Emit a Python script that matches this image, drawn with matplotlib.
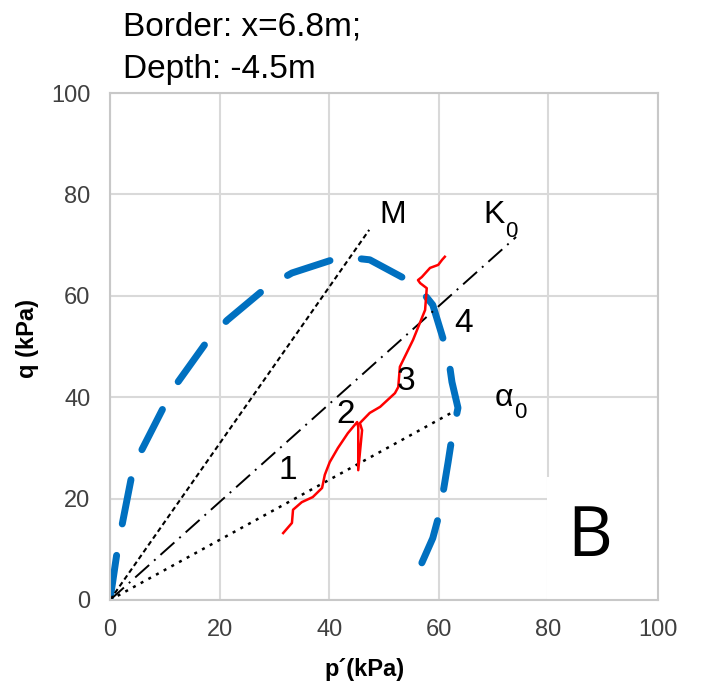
import matplotlib
matplotlib.use("Agg")
import matplotlib.pyplot as plt
from matplotlib.patches import Rectangle

plt.rcParams['font.family'] = ['Liberation Sans', 'DejaVu Sans']

# yield surface (blue dashed)
surf_p = [0.0, 1.3, 2.2, 4.0, 5.8, 10.0, 12.4, 17.9, 21.4, 28.6, 33.2, 42.3,
          47.4, 56.0, 58.9, 61.7, 62.4, 63.5, 62.4, 61.7, 60.2, 58.9, 55.3]
surf_q = [0.0, 9.5, 14.8, 24.7, 29.6, 38.5, 43.0, 51.3, 55.2, 61.7, 64.5, 67.7,
          67.1, 62.1, 58.2, 48.3, 43.0, 37.9, 32.1, 27.2, 17.4, 12.2, 3.4]

# measured stress path (red)
path_p = [31.6, 33.2, 33.4, 35.0, 37.0, 38.7, 39.2, 40.1, 41.6, 43.4, 45.1,
          45.3, 45.3, 46.0, 45.6, 47.4, 49.3, 52.0, 52.6, 52.9, 55.3, 57.5,
          57.8, 56.6, 56.2, 56.9, 58.4, 59.9, 60.6, 61.1]
path_q = [13.2, 15.2, 17.8, 19.3, 20.3, 22.1, 24.7, 27.2, 30.0, 32.9, 35.1,
          34.1, 25.6, 33.5, 34.9, 36.9, 38.1, 40.8, 42.0, 46.0, 51.3, 57.2,
          61.5, 62.5, 63.1, 63.7, 65.5, 66.1, 67.1, 67.7]

# reference lines from the origin: end points
m_line = ([0, 47.3], [0, 73.0])
k0_line = ([0, 74.1], [0, 71.6])
a0_line = ([0, 62.6], [0, 37.1])

ticks = [0, 20, 40, 60, 80, 100]
path_labels = ['1', '2', '3', '4']
path_label_p = [32.5, 43.0, 54.0, 64.5]
path_label_q = [25.5, 36.5, 43.0, 54.5]

fig = plt.figure(figsize=(7.08, 6.83), dpi=100)
ax = fig.add_axes([110 / 708, 1 - 600 / 683, 548 / 708, 507 / 683])
ax.set_xlim(0, 100)
ax.set_ylim(0, 100)
ax.set_xticks(ticks)
ax.set_yticks(ticks)
ax.tick_params(length=0, labelsize=17, labelcolor='#404040', pad=14)
ax.grid(True, color='#d9d9d9', lw=1.5, zorder=0)
ax.set_axisbelow(True)
for s in ax.spines.values():
    s.set_color('#c8c8c8')
    s.set_linewidth(1.5)
    s.set_zorder(5)

# white box behind the panel letter
ax.add_patch(Rectangle((79.7, 0), 20.3, 24.3, facecolor='white',
                       edgecolor='none', zorder=1))

ax.plot(*m_line, color='black', lw=1.5, ls=(0, (2.4, 1.6)), zorder=3)
ax.plot(*k0_line, color='black', lw=1.4, ls=(0, (9.6, 3.4, 1, 3.4)), zorder=3)
ax.plot(*a0_line, color='black', lw=1.8, ls=(0, (1.2, 2.3)), zorder=3)

ax.plot(surf_p, surf_q, color='#0070c0', lw=5, ls=(0, (6.5, 4.6)),
        dash_capstyle='round', solid_joinstyle='round', zorder=2)
ax.plot(path_p, path_q, color='#ff0000', lw=1.8, zorder=4)

ax.text(51.5, 76, 'M', fontsize=23, ha='center', va='center', zorder=6)
ax.text(70.0, 76, 'K', fontsize=23, ha='center', va='center', zorder=6)
ax.text(73.2, 72.6, '0', fontsize=16, ha='center', va='center', zorder=6)
ax.text(71.8, 39.8, 'α', fontsize=23, ha='center', va='center', zorder=6)
ax.text(74.8, 37.0, '0', fontsize=16, ha='center', va='center', zorder=6)
for lab, p, q in zip(path_labels, path_label_p, path_label_q):
    ax.text(p, q, lab, fontsize=24, ha='center', va='center', zorder=6)

ax.text(87.6, 12.2, 'B', fontsize=50, family='Open Sans', ha='center',
        va='center', zorder=6)

ax.set_xlabel('p´(kPa)', fontsize=17, fontweight='bold')
ax.set_ylabel('q (kPa)', fontsize=17, fontweight='bold')
ax.xaxis.set_label_coords(0.465, -0.115)
ax.yaxis.set_label_coords(-0.13, 0.515)

fig.text(123 / 708, 1 - 36 / 683, 'Border: x=6.8m;', fontsize=24, va='baseline')
fig.text(123 / 708, 1 - 78 / 683, 'Depth: -4.5m', fontsize=24, va='baseline')

fig.savefig('out.png', dpi=100)
